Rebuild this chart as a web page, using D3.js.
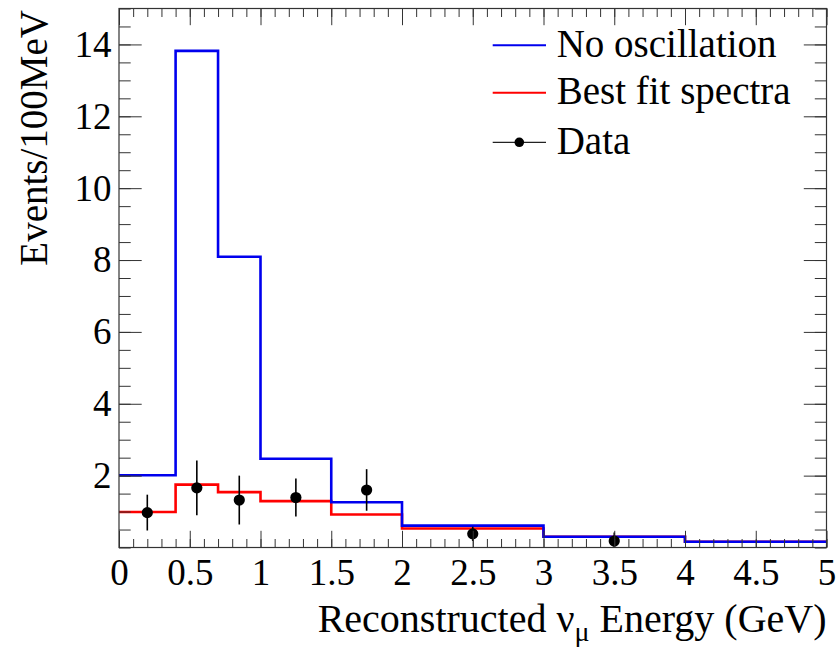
<!DOCTYPE html>
<html>
<head>
<meta charset="utf-8">
<script src="https://cdn.jsdelivr.net/npm/d3@7"></script>
<style>
  html, body { margin: 0; padding: 0; background: #fff; }
  svg { display: block; font-family: "Liberation Serif", "Times New Roman", serif; }
</style>
</head>
<body>
<svg id="chart" width="840" height="648"></svg>
<script>
// Bin edges of the reconstructed energy histogram (GeV)
const binEdges = [0, 0.4, 0.7, 1.0, 1.5, 2.0, 3.0, 4.0, 5.0];
// Expected events per 100 MeV without oscillation
const noOscillation = [2.01, 13.82, 8.09, 2.47, 1.26, 0.61, 0.30, 0.16];
// Best-fit oscillated prediction
const bestFit = [0.99, 1.75, 1.54, 1.29, 0.92, 0.53, 0.30, 0.16];
// Observed data (bin centres, events per 100 MeV, error)
const dataX = [0.2, 0.55, 0.85, 1.25, 1.75, 2.5, 3.5];
const dataY = [0.97, 1.66, 1.32, 1.39, 1.60, 0.38, 0.18];
const dataErr = [0.50, 0.76, 0.68, 0.53, 0.58, 0.20, 0.24];
// Axis ticks
const xMajorTicks = [0, 0.5, 1, 1.5, 2, 2.5, 3, 3.5, 4, 4.5, 5];
const xTickLabels = ["0", "0.5", "1", "1.5", "2", "2.5", "3", "3.5", "4", "4.5", "5"];
const yMajorTicks = [2, 4, 6, 8, 10, 12, 14];
const yTickLabels = ["2", "4", "6", "8", "10", "12", "14"];
// Legend entries
const legendLabels = ["No oscillation", "Best fit spectra", "Data"];

const BLUE = "#0000ee", RED = "#ff0000", AXIS = "#333";

const frame = { left: 119, right: 826.5, top: 8.5, bottom: 547.5 };
const svg = d3.select("#chart");

const x = d3.scaleLinear().domain([0, 5]).range([frame.left, frame.right]);
const y = d3.scaleLinear().domain([0, 15]).range([frame.bottom, frame.top]);

const xMinor = d3.range(0, 51).map(i => i / 10);
const yMinor = d3.range(0, 31).map(i => i / 2);

// Step outline of a histogram from its bin contents
function stepPoints(values) {
  const pts = values.map((v, i) => [binEdges[i], v]);
  pts.push([binEdges[binEdges.length - 1], values[values.length - 1]]);
  return pts;
}
const stepLine = d3.line().x(d => x(d[0])).y(d => y(d[1])).curve(d3.curveStepAfter);

svg.append("clipPath").attr("id", "plotclip")
  .append("rect")
  .attr("x", frame.left).attr("y", frame.top)
  .attr("width", frame.right - frame.left).attr("height", frame.bottom - frame.top);

const plot = svg.append("g").attr("clip-path", "url(#plotclip)");

plot.append("path")
  .attr("d", stepLine(stepPoints(bestFit)))
  .attr("fill", "none").attr("stroke", RED).attr("stroke-width", 2.6);

plot.append("path")
  .attr("d", stepLine(stepPoints(noOscillation)))
  .attr("fill", "none").attr("stroke", BLUE).attr("stroke-width", 2.6);

// Data points with error bars
const pts = plot.append("g");
dataX.forEach((dx, i) => {
  pts.append("line")
    .attr("x1", x(dx)).attr("x2", x(dx))
    .attr("y1", y(dataY[i] - dataErr[i])).attr("y2", y(dataY[i] + dataErr[i]))
    .attr("stroke", "#000").attr("stroke-width", 1.6);
  pts.append("circle")
    .attr("cx", x(dx)).attr("cy", y(dataY[i])).attr("r", 5.6)
    .attr("fill", "#000");
});

// Axes with inward ticks on all four sides
function styleAxis(g) {
  g.select(".domain").remove();
  g.selectAll(".tick line").attr("stroke", AXIS).attr("stroke-width", 1);
}
const fmtX = d => xTickLabels[xMajorTicks.indexOf(d)];
const fmtY = d => yTickLabels[yMajorTicks.indexOf(d)];

svg.append("g").attr("transform", `translate(0,${frame.bottom})`)
  .call(d3.axisBottom(x).tickValues(xMinor).tickSize(-8.5).tickFormat(""))
  .call(styleAxis);
const gx = svg.append("g").attr("transform", `translate(0,${frame.bottom})`)
  .call(d3.axisBottom(x).tickValues(xMajorTicks).tickSize(-16.7).tickPadding(11).tickFormat(fmtX))
  .call(styleAxis);
gx.selectAll("text").attr("font-family", "Liberation Serif").attr("font-size", 37).attr("fill", "#000");

svg.append("g").attr("transform", `translate(0,${frame.top})`)
  .call(d3.axisTop(x).tickValues(xMinor).tickSize(-8.5).tickFormat(""))
  .call(styleAxis);
svg.append("g").attr("transform", `translate(0,${frame.top})`)
  .call(d3.axisTop(x).tickValues(xMajorTicks).tickSize(-16.7).tickFormat(""))
  .call(styleAxis);

svg.append("g").attr("transform", `translate(${frame.left},0)`)
  .call(d3.axisLeft(y).tickValues(yMinor).tickSize(-11.7).tickFormat(""))
  .call(styleAxis);
const gy = svg.append("g").attr("transform", `translate(${frame.left},0)`)
  .call(d3.axisLeft(y).tickValues(yMajorTicks).tickSize(-22.7).tickPadding(7.5).tickFormat(fmtY))
  .call(styleAxis);
gy.selectAll("text").attr("font-family", "Liberation Serif").attr("font-size", 37).attr("fill", "#000");

svg.append("g").attr("transform", `translate(${frame.right},0)`)
  .call(d3.axisRight(y).tickValues(yMinor).tickSize(-11.7).tickFormat(""))
  .call(styleAxis);
svg.append("g").attr("transform", `translate(${frame.right},0)`)
  .call(d3.axisRight(y).tickValues(yMajorTicks).tickSize(-22.7).tickFormat(""))
  .call(styleAxis);

// Frame
svg.append("rect")
  .attr("x", frame.left).attr("y", frame.top)
  .attr("width", frame.right - frame.left).attr("height", frame.bottom - frame.top)
  .attr("fill", "none").attr("stroke", AXIS).attr("stroke-width", 1.2);

// Axis titles
const xt = svg.append("text")
  .attr("x", frame.right).attr("y", 632)
  .attr("text-anchor", "end").attr("font-size", 40).attr("fill", "#000");
xt.append("tspan").text("Reconstructed ν");
xt.append("tspan").attr("font-size", 28).attr("dy", 9).text("μ");
xt.append("tspan").attr("dy", -9).text(" Energy (GeV)");

svg.append("text")
  .attr("transform", "translate(46.5,10) rotate(-90)")
  .attr("text-anchor", "end").attr("font-size", 39).attr("fill", "#000")
  .text("Events/100MeV");

// Legend
const legendY = [45.3, 92.7, 142.3];
const leg = svg.append("g");
[BLUE, RED].forEach((c, i) => {
  leg.append("line")
    .attr("x1", 492.7).attr("x2", 546).attr("y1", legendY[i]).attr("y2", legendY[i])
    .attr("stroke", c).attr("stroke-width", 2);
});
leg.append("line")
  .attr("x1", 492.7).attr("x2", 546).attr("y1", legendY[2]).attr("y2", legendY[2])
  .attr("stroke", "#222").attr("stroke-width", 1.3);
leg.append("circle").attr("cx", 519.3).attr("cy", legendY[2]).attr("r", 4.8).attr("fill", "#000");
legendLabels.forEach((t, i) => {
  leg.append("text")
    .attr("x", 556.7).attr("y", legendY[i] + 11.5)
    .attr("font-size", 39).attr("fill", "#000")
    .text(t);
});
</script>
</body>
</html>
